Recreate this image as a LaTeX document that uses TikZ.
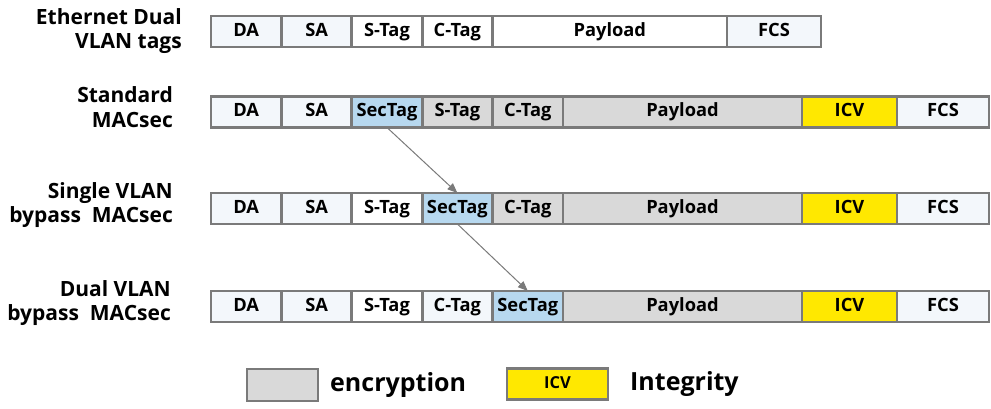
\documentclass[tikz,border=0pt]{standalone}
\usepackage{fontspec}
\setmainfont{Open Sans}
\usepackage{tikz}
\usetikzlibrary{positioning,arrows.meta}
\definecolor{framegray}{HTML}{7A7A7A}
\definecolor{palefill}{HTML}{F3F7FB}
\definecolor{encfill}{HTML}{D9D9D9}
\definecolor{secfill}{HTML}{B7D8EF}
\definecolor{icvfill}{HTML}{FFE800}

\begin{document}
\begin{tikzpicture}[x=1pt,y=-1pt,
      cell/.style={draw=framegray,line width=2.8pt,outer sep=0pt,inner sep=0pt,
        minimum height=31pt,minimum width=70.4pt,fill=white,
        text height=13.3pt,text depth=4pt,font=\fontsize{18.3}{20}\bfseries},
      pale/.style={cell,fill=palefill},
      enc/.style={cell,fill=encfill},
      sec/.style={cell,fill=secfill},
      icv/.style={cell,fill=icvfill},
      rowlabel/.style={anchor=east,align=right,inner sep=0pt,font=\fontsize{21}{24.5}\bfseries},
      legtext/.style={inner sep=0pt,font=\fontsize{25}{28}\bfseries},
      movearrow/.style={draw=framegray,line width=1pt,-{Triangle[length=10pt,width=8pt]}}]
    \useasboundingbox (0,0) rectangle (991,408);

    \node[rowlabel] (l1) at (182,31) {Ethernet Dual\\VLAN tags};
    \node[pale,anchor=west] (r1da) at (211,31.5) {DA};
    \node[pale,right=0pt of r1da] (r1sa) {SA};
    \node[cell,right=0pt of r1sa] (r1stag) {S-Tag};
    \node[cell,right=0pt of r1stag] (r1ctag) {C-Tag};
    \node[cell,minimum width=234.4pt,right=0pt of r1ctag] (r1pay) {Payload};
    \node[pale,minimum width=94pt,right=0pt of r1pay] (r1fcs) {FCS};

    \node[rowlabel] (l2) at (173,107) {Standard\\MACsec};
    \node[pale,anchor=west] (r2da) at (211,112) {DA};
    \node[pale,right=0pt of r2da] (r2sa) {SA};
    \node[sec,right=0pt of r2sa] (r2sec) {SecTag};
    \node[enc,right=0pt of r2sec] (r2stag) {S-Tag};
    \node[enc,right=0pt of r2stag] (r2ctag) {C-Tag};
    \node[enc,minimum width=239pt,right=0pt of r2ctag] (r2pay) {Payload};
    \node[icv,minimum width=95pt,right=0pt of r2pay] (r2icv) {ICV};
    \node[pale,minimum width=92pt,right=0pt of r2icv] (r2fcs) {FCS};

    \node[rowlabel] (l3) at (173,205) {Single VLAN\\bypass~~MACsec};
    \node[pale,anchor=west] (r3da) at (211,208.5) {DA};
    \node[pale,right=0pt of r3da] (r3sa) {SA};
    \node[cell,right=0pt of r3sa] (r3stag) {S-Tag};
    \node[sec,right=0pt of r3stag] (r3sec) {SecTag};
    \node[enc,right=0pt of r3sec] (r3ctag) {C-Tag};
    \node[enc,minimum width=239pt,right=0pt of r3ctag] (r3pay) {Payload};
    \node[icv,minimum width=95pt,right=0pt of r3pay] (r3icv) {ICV};
    \node[pale,minimum width=92pt,right=0pt of r3icv] (r3fcs) {FCS};

    \node[rowlabel] (l4) at (171,303) {Dual VLAN\\bypass~~MACsec};
    \node[pale,anchor=west] (r4da) at (211,306.5) {DA};
    \node[pale,right=0pt of r4da] (r4sa) {SA};
    \node[cell,right=0pt of r4sa] (r4stag) {S-Tag};
    \node[pale,right=0pt of r4stag] (r4ctag) {C-Tag};
    \node[sec,right=0pt of r4ctag] (r4sec) {SecTag};
    \node[enc,minimum width=239pt,right=0pt of r4sec] (r4pay) {Payload};
    \node[icv,minimum width=95pt,right=0pt of r4pay] (r4icv) {ICV};
    \node[pale,minimum width=92pt,right=0pt of r4icv] (r4fcs) {FCS};

    \draw[movearrow] (r2sec.south) -- (r3sec.north);
    \draw[movearrow] (r3sec.south) -- (r4sec.north);

    \node[enc,minimum width=71pt,minimum height=32pt,anchor=west] (legenc) at (247,385) {};
    \node[legtext,right=12pt of legenc] (legenctext) {encryption};
    \node[icv,minimum width=101pt,minimum height=31pt,font=\fontsize{16.5}{18}\bfseries,
      anchor=west] (legicv) at (507,384) {ICV};
    \node[legtext,right=22pt of legicv] (legicvtext) {Integrity};
\end{tikzpicture}
\end{document}
